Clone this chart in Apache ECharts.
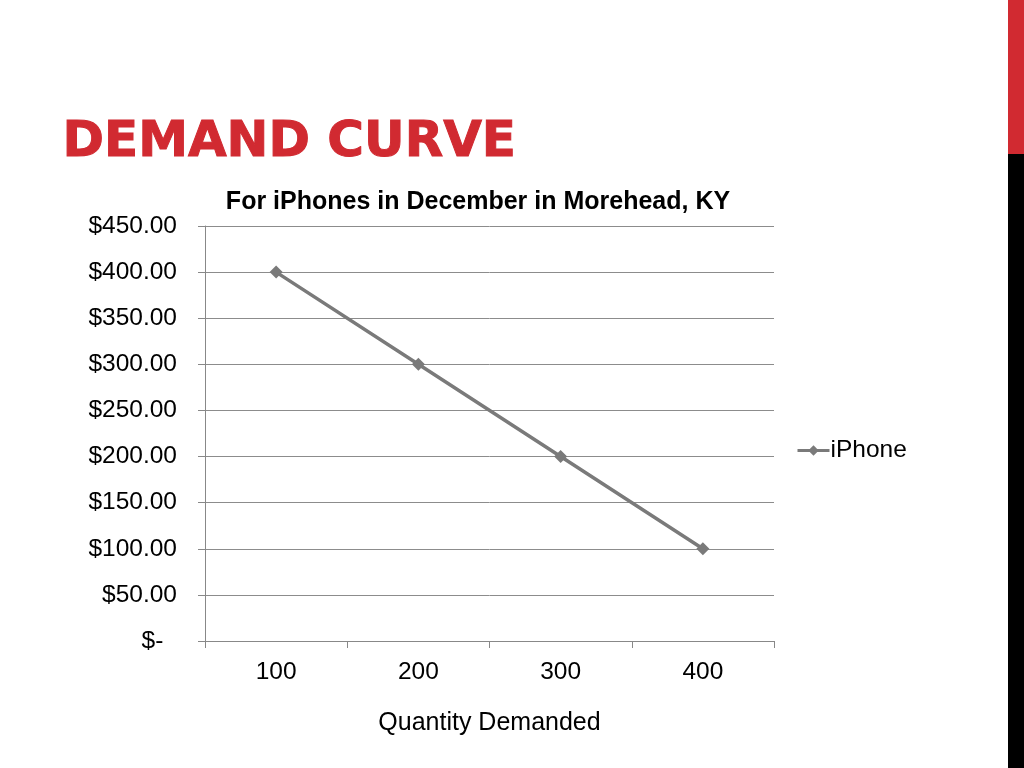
<!DOCTYPE html>
<html style="height: 100%">
   <head>
       <meta charset="utf-8">
   </head>
   <body style="height: 100%; margin: 0; background: #fff">
       <div id="container" style="height: 100%"></div>
       <script type="text/javascript" src="https://cdn.jsdelivr.net/npm/echarts@6/dist/echarts.min.js"></script>
	<script type="text/javascript">
		// data
		var quantities = ['100', '200', '300', '400'];
		var prices = [400, 300, 200, 100];
		var seriesName = 'iPhone';

		var dom = document.getElementById("container");
		var myChart = echarts.init(dom);
		var font = 'Liberation Sans, Arial, sans-serif';

		var option = {
			animation: false,
			backgroundColor: '#fff',
			title: {
				text: 'For iPhones in December in Morehead, KY',
				left: 473,
				textAlign: 'center',
				top: 185,
				textStyle: { fontFamily: font, fontSize: 25, fontWeight: 'bold', color: '#000' }
			},
			legend: {
				data: [seriesName],
				left: 791,
				top: 433,
				itemWidth: 32,
				itemHeight: 13,
				itemGap: 0,
				lineStyle: { width: 3 },
				textStyle: { fontFamily: font, fontSize: 24.5, color: '#000', padding: [0, 0, 0, -4] }
			},
			graphic: [
				{
					type: 'text', left: 62, top: 118,
					style: {
						text: 'DEMAND CURVE', fill: '#D12A31', stroke: '#D12A31', lineWidth: 1,
						font: 'bold 50px DejaVu Sans, sans-serif'
					}
				},
				{ type: 'rect', shape: { x: 1008, y: 0, width: 16, height: 154 }, style: { fill: '#D12A31' } },
				{ type: 'rect', shape: { x: 1008, y: 154, width: 16, height: 614 }, style: { fill: '#000' } }
			],
			grid: { left: 205, right: 250, top: 226, bottom: 127 },
			xAxis: {
				type: 'category',
				data: quantities,
				boundaryGap: true,
				name: 'Quantity Demanded',
				nameLocation: 'middle',
				nameGap: 70,
				nameTextStyle: { fontFamily: font, fontSize: 25, color: '#000' },
				axisLine: { lineStyle: { color: '#888', width: 1 } },
				axisTick: { show: true, length: 7, alignWithLabel: false, lineStyle: { color: '#888' } },
				axisLabel: { fontFamily: font, fontSize: 24.5, color: '#000', margin: 19 }
			},
			yAxis: {
				type: 'value',
				min: 0,
				max: 450,
				interval: 50,
				axisLine: { show: true, lineStyle: { color: '#888', width: 1 } },
				axisTick: { show: true, length: 7, lineStyle: { color: '#888' } },
				splitLine: { lineStyle: { color: '#8c8c8c', width: 1 } },
				axisLabel: {
					fontFamily: font, fontSize: 24.5, color: '#000', margin: 28,
					formatter: function (v) { return v === 0 ? '$-  ' : '$' + v.toFixed(2); }
				}
			},
			series: [
				{
					name: seriesName,
					type: 'line',
					data: prices,
					symbol: 'diamond',
					symbolSize: 13,
					lineStyle: { color: '#7a7a7a', width: 3.5 },
					itemStyle: { color: '#7a7a7a' }
				}
			]
		};
		myChart.setOption(option);
		window.onresize = myChart.resize;
	</script>
   </body>
</html>
